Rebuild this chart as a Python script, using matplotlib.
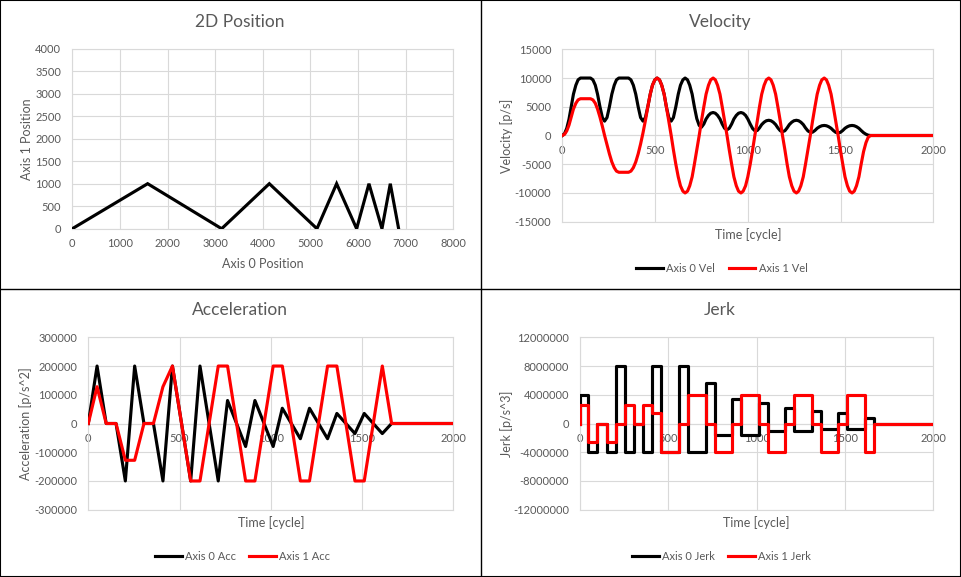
import matplotlib
matplotlib.use('Agg')
import matplotlib.pyplot as plt
from matplotlib.lines import Line2D
from matplotlib.patches import Rectangle
from matplotlib.ticker import FuncFormatter

plt.rcParams['font.family'] = ['Lato', 'DejaVu Sans']
plt.rcParams['axes.unicode_minus'] = False

TXT = '#595959'
GRID = '#D9D9D9'
C0 = '#000000'
C1 = '#FF0000'

# 2D path (axis 0 position vs axis 1 position), corners
pos_x = [0, 1582, 3136, 4137, 5137, 5550, 5970, 6229, 6502, 6677, 6852]
pos_y = [0, 1000, 0, 1000, 0, 1000, 0, 1000, 0, 1000, 0]

# segment breakpoints [cycle] for acceleration
seg_t = [0, 48, 98, 152, 203, 254, 305, 357, 409, 461, 561, 612, 712, 763, 862,
         913, 1013, 1063, 1162, 1212, 1311, 1362, 1461, 1512, 1611, 1662, 2000]

acc0 = [0, 200000, 0, 0, -200000, 200000, 0, 0, -200000, 200000, -200000, 200000,
        -200000, 80000, -80000, 80000, -80000, 53000, -53000, 53000, -53000, 35000,
        -35000, 35000, -35000, 0, 0]
acc1 = [0, 128000, 0, 0, -128000, -128000, 0, 0, 128000, 200000, -200000, -200000,
        200000, 200000, -200000, -200000, 200000, 200000, -200000, -200000, 200000,
        200000, -200000, -200000, 200000, 0, 0]

# jerk steps (value holds from each time until the next one)
jerk_t = [0, 0, 48, 98, 152, 203, 254, 305, 357, 409, 461, 561, 612, 712, 763, 862,
          913, 1013, 1063, 1162, 1212, 1311, 1362, 1461, 1512, 1611, 1662, 2000]
jerk0 = [0, 4000000, -4000000, 0, -4000000, 8000000, -4000000, 0, -4000000, 8000000,
         -4000000, 8000000, -4000000, 5700000, -1650000, 3400000, -1650000, 2800000,
         -1050000, 2200000, -1050000, 1800000, -700000, 1450000, -700000, 750000, 0, 0]
jerk1 = [0, 2600000, -2600000, 0, -2600000, 0, 2600000, 0, 2600000, 1500000, -4000000,
         0, 4000000, 0, -4000000, 0, 4000000, 0, -4000000, 0, 4000000, 0, -4000000,
         0, 4000000, -4000000, 0, 0]

# velocity samples [cycle]
vel_t = [0,
         12, 24, 36, 48,
         60, 73, 85, 98,
         112, 125, 139, 152,
         165, 178, 190, 203,
         216, 228, 241, 254,
         267, 280, 292, 305,
         318, 331, 344, 357,
         370, 383, 396, 409,
         422, 435, 448, 461,
         474, 486, 499, 511, 524, 536, 549, 561,
         574, 587, 599, 612,
         625, 637, 650, 662, 675, 687, 700, 712,
         725, 738, 750, 763,
         775, 788, 800, 813, 825, 837, 850, 862,
         875, 888, 900, 913,
         925, 938, 950, 963, 975, 988, 1000, 1013,
         1026, 1038, 1051, 1063,
         1075, 1088, 1100, 1113, 1125, 1137, 1150, 1162,
         1175, 1187, 1200, 1212,
         1224, 1237, 1249, 1262, 1274, 1286, 1299, 1311,
         1324, 1337, 1349, 1362,
         1374, 1387, 1399, 1412, 1424, 1436, 1449, 1461,
         1474, 1487, 1499, 1512,
         1524, 1537, 1549, 1562, 1574, 1586, 1599, 1611,
         1624, 1637, 1649, 1662,
         2000]

vel0 = [0,
        312, 1250, 2812, 5000,
        7188, 8750, 9688, 10000,
        10000, 10000, 10000, 10000,
        9688, 8750, 7188, 5000,
        3125, 2500, 3125, 5000,
        7188, 8750, 9688, 10000,
        10000, 10000, 10000, 10000,
        9688, 8750, 7188, 5000,
        3125, 2500, 3125, 5000,
        7188, 8750, 9688, 10000, 9688, 8750, 7188, 5000,
        3125, 2500, 3125, 5000,
        7188, 8750, 9688, 10000, 9688, 8750, 7188, 5000,
        2938, 1750, 1438, 2000,
        2875, 3500, 3875, 4000, 3875, 3500, 2875, 2000,
        1250, 1000, 1250, 2000,
        2875, 3500, 3875, 4000, 3875, 3500, 2875, 2000,
        1208, 831, 870, 1325,
        1905, 2319, 2567, 2650, 2567, 2319, 1905, 1325,
        828, 662, 828, 1325,
        1905, 2319, 2567, 2650, 2567, 2319, 1905, 1325,
        800, 550, 575, 875,
        1258, 1531, 1695, 1750, 1695, 1531, 1258, 875,
        547, 438, 547, 875,
        1258, 1531, 1695, 1750, 1695, 1531, 1258, 875,
        492, 219, 55, 0,
        0]

vel1 = [0,
        200, 800, 1800, 3200,
        4600, 5600, 6200, 6400,
        6400, 6400, 6400, 6400,
        6200, 5600, 4600, 3200,
        1600, 0, -1600, -3200,
        -4600, -5600, -6200, -6400,
        -6400, -6400, -6400, -6400,
        -6200, -5600, -4600, -3200,
        -1488, 450, 2612, 5000,
        7188, 8750, 9688, 10000, 9688, 8750, 7188, 5000,
        2500, 0, -2500, -5000,
        -7188, -8750, -9688, -10000, -9688, -8750, -7188, -5000,
        -2500, 0, 2500, 5000,
        7188, 8750, 9688, 10000, 9688, 8750, 7188, 5000,
        2500, 0, -2500, -5000,
        -7188, -8750, -9688, -10000, -9688, -8750, -7188, -5000,
        -2500, 0, 2500, 5000,
        7188, 8750, 9688, 10000, 9688, 8750, 7188, 5000,
        2500, 0, -2500, -5000,
        -7188, -8750, -9688, -10000, -9688, -8750, -7188, -5000,
        -2500, 0, 2500, 5000,
        7188, 8750, 9688, 10000, 9688, 8750, 7188, 5000,
        2500, 0, -2500, -5000,
        -7188, -8750, -9688, -10000, -9688, -8750, -7188, -5000,
        -2812, -1250, -312, 0,
        0]

W, H = 961, 577
fig = plt.figure(figsize=(W / 100, H / 100), dpi=100)


def add_ax(x0, y0, x1, y1):
    # pixel box, y measured from the top
    return fig.add_axes([x0 / W, 1 - y1 / H, (x1 - x0) / W, (y1 - y0) / H])


def ftext(x, y, s, **kw):
    fig.text(x / W, 1 - y / H, s, ha='center', va='center', color=TXT, **kw)


def style(ax, xlim, xstep, ylim, ystep, zero_axis=True):
    ax.set_xlim(*xlim)
    ax.set_ylim(*ylim)
    ax.set_xticks(range(xlim[0], xlim[1] + 1, xstep))
    ax.set_yticks(range(ylim[0], ylim[1] + 1, ystep))
    fmt = FuncFormatter(lambda v, p: f'{v:.0f}')
    ax.xaxis.set_major_formatter(fmt)
    ax.yaxis.set_major_formatter(fmt)
    ax.grid(True, color=GRID, lw=0.8)
    ax.set_axisbelow(True)
    for s in ax.spines.values():
        s.set_color(GRID)
        s.set_linewidth(0.8)
        s.set_zorder(0.6)
    if zero_axis:
        ax.spines['bottom'].set_position(('data', 0))
        ax.plot([0, 1], [0, 0], transform=ax.transAxes, color=GRID, lw=0.8,
                clip_on=False, zorder=0.5)
    ax.tick_params(axis='both', length=0, labelsize=8, labelcolor=TXT)
    ax.tick_params(axis='x', pad=7)
    ax.tick_params(axis='y', pad=8)


LW = 2.25

# 2D position
ax = add_ax(72.3, 48.7, 453.3, 228.7)
style(ax, (0, 8000), 1000, (0, 4000), 500, zero_axis=False)
ax.plot(pos_x, pos_y, color=C0, lw=LW, solid_joinstyle='miter')
ftext(240, 22, '2D Position', fontsize=12.5)
ftext(262.8, 264, 'Axis 0 Position', fontsize=9)
ftext(27.3, 138.7, 'Axis 1 Position', fontsize=9, rotation=90)

# velocity
ax = add_ax(562.3, 49.3, 933.3, 221.7)
style(ax, (0, 2000), 500, (-15000, 15000), 5000)
l0, = ax.plot(vel_t, vel0, color=C0, lw=LW)
l1, = ax.plot(vel_t, vel1, color=C1, lw=LW)
ftext(720, 22, 'Velocity', fontsize=12.5)
ftext(747.8, 234.3, 'Time [cycle]', fontsize=9)
ftext(506.7, 135.5, 'Velocity [p/s]', fontsize=9, rotation=90)
leg_kw = dict(loc='center', ncol=2, frameon=False, fontsize=8, labelcolor=TXT,
              handlelength=2.4, handletextpad=0.3, columnspacing=1.2)
fig.legend([l0, l1], ['Axis 0 Vel', 'Axis 1 Vel'],
           bbox_to_anchor=(722 / W, 1 - 268 / H), **leg_kw)

# acceleration
ax = add_ax(88.3, 337.3, 453.3, 509.7)
style(ax, (0, 2000), 500, (-300000, 300000), 100000)
l0, = ax.plot(seg_t, acc0, color=C0, lw=LW)
l1, = ax.plot(seg_t, acc1, color=C1, lw=LW)
ftext(240, 310, 'Acceleration', fontsize=12.5)
ftext(270.8, 522.3, 'Time [cycle]', fontsize=9)
ftext(26, 423.5, 'Acceleration [p/s^2]', fontsize=9, rotation=90)
fig.legend([l0, l1], ['Axis 0 Acc', 'Axis 1 Acc'],
           bbox_to_anchor=(242.5 / W, 1 - 556 / H), **leg_kw)

# jerk
ax = add_ax(580, 337.3, 933.3, 509.7)
style(ax, (0, 2000), 500, (-12000000, 12000000), 4000000)
l0, = ax.step(jerk_t, jerk0, where='post', color=C0, lw=LW)
l1, = ax.step(jerk_t, jerk1, where='post', color=C1, lw=LW)
ftext(720, 310, 'Jerk', fontsize=12.5)
ftext(756.7, 522.3, 'Time [cycle]', fontsize=9)
ftext(506.7, 423.5, 'Jerk [p/s^3]', fontsize=9, rotation=90)
fig.legend([l0, l1], ['Axis 0 Jerk', 'Axis 1 Jerk'],
           bbox_to_anchor=(721.7 / W, 1 - 556 / H), **leg_kw)

# panel borders
fig.add_artist(Rectangle((0, 0), 1, 1, transform=fig.transFigure, fill=False,
                         edgecolor='black', lw=1.5))
fig.add_artist(Line2D([480.5 / W, 480.5 / W], [0, 1], transform=fig.transFigure,
                      color='black', lw=1))
fig.add_artist(Line2D([0, 1], [1 - 288.5 / H, 1 - 288.5 / H],
                      transform=fig.transFigure, color='black', lw=1))

fig.savefig('out.png', dpi=100)
